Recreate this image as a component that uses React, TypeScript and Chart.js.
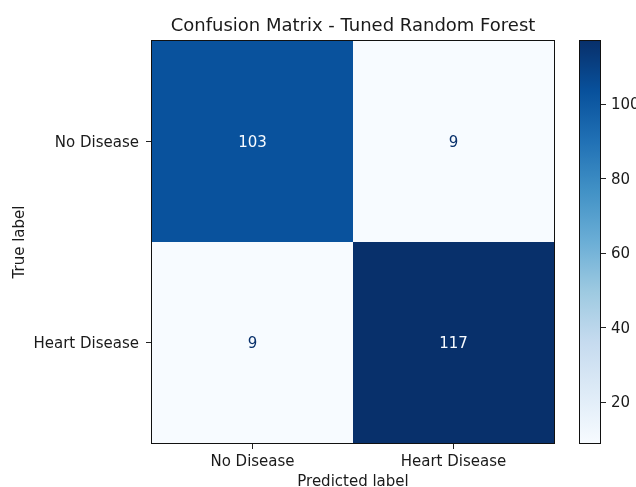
import React, { useEffect, useRef } from "react";
import { Chart, registerables } from "chart.js";

Chart.register(...registerables);

const categories = ["No Disease", "Heart Disease"];
const rowNoDisease = [103, 9];
const rowHeartDisease = [9, 117];
const colorbarTicks = [20, 40, 60, 80, 100];
const chartTitle = "Confusion Matrix - Tuned Random Forest";
const xTitle = "Predicted label";
const yTitle = "True label";

const blues = ["#f7fbff", "#deebf7", "#c6dbef", "#9ecae1", "#6baed6", "#4292c6", "#2171b5", "#08519c", "#08306b"];

const matrix = [rowNoDisease, rowHeartDisease];
const allVals = matrix.flat();
const vmin = Math.min(...allVals);
const vmax = Math.max(...allVals);

function hexToRgb(h: string) {
  const n = parseInt(h.slice(1), 16);
  return [(n >> 16) & 255, (n >> 8) & 255, n & 255];
}
function bluesColor(t: number) {
  const c = Math.max(0, Math.min(1, t)) * (blues.length - 1);
  const i = Math.min(Math.floor(c), blues.length - 2);
  const f = c - i;
  const a = hexToRgb(blues[i]);
  const b = hexToRgb(blues[i + 1]);
  const r = a.map((v, k) => Math.round(v + (b[k] - v) * f));
  return `rgb(${r[0]},${r[1]},${r[2]})`;
}

const FONT = "'DejaVu Sans', sans-serif";
const TEXT = "#1a1a1a";

export default function App() {
  const mainRef = useRef<HTMLCanvasElement>(null);
  const cbRef = useRef<HTMLCanvasElement>(null);

  useEffect(() => {
    const cellPlugin = {
      id: "cells",
      beforeDatasetsDraw(chart: any) {
        const { ctx, scales } = chart;
        const xs = scales.x, ys = scales.y;
        ctx.save();
        matrix.forEach((row, i) => {
          row.forEach((v, j) => {
            const x0 = xs.getPixelForValue(j - 0.5);
            const x1 = xs.getPixelForValue(j + 0.5);
            const y0 = ys.getPixelForValue(i - 0.5);
            const y1 = ys.getPixelForValue(i + 0.5);
            ctx.fillStyle = bluesColor((v - vmin) / (vmax - vmin));
            ctx.fillRect(Math.min(x0, x1), Math.min(y0, y1), Math.abs(x1 - x0), Math.abs(y1 - y0));
          });
        });
        const thresh = (vmin + vmax) / 2;
        ctx.font = `15px ${FONT}`;
        ctx.textAlign = "center";
        ctx.textBaseline = "middle";
        matrix.forEach((row, i) => {
          row.forEach((v, j) => {
            ctx.fillStyle = v > thresh ? blues[0] : blues[blues.length - 1];
            ctx.fillText(String(v), xs.getPixelForValue(j), ys.getPixelForValue(i) + 1.5);
          });
        });
        ctx.restore();
      },
      afterDraw(chart: any) {
        const { ctx, chartArea } = chart;
        ctx.save();
        ctx.strokeStyle = "#111";
        ctx.lineWidth = 1;
        ctx.strokeRect(Math.round(chartArea.left) - 0.5, Math.round(chartArea.top) - 0.5,
          Math.round(chartArea.right - chartArea.left) + 1, Math.round(chartArea.bottom - chartArea.top) + 1);
        ctx.fillStyle = TEXT;
        ctx.font = `18px ${FONT}`;
        ctx.textAlign = "center";
        ctx.textBaseline = "alphabetic";
        ctx.fillText(chartTitle, (chartArea.left + chartArea.right) / 2, 31);
        ctx.restore();
      },
    };

    const tickFont = { family: FONT, size: 15 };
    const main = new Chart(mainRef.current!, {
      type: "scatter",
      data: { datasets: [{ data: [], pointRadius: 0 }] },
      plugins: [cellPlugin],
      options: {
        animation: false,
        responsive: false,
        devicePixelRatio: 1,
        layout: { padding: { top: 41, right: 82, left: 0, bottom: 0 } },
        plugins: { legend: { display: false }, tooltip: { enabled: false }, title: { display: false } },
        scales: {
          x: {
            type: "linear",
            position: "bottom",
            min: -0.5,
            max: 1.5,
            afterBuildTicks: (s: any) => { s.ticks = categories.map((_, i) => ({ value: i })); },
            afterFit: (s: any) => { s.height = 44; },
            ticks: { font: tickFont, color: TEXT, padding: 4, maxRotation: 0, autoSkip: false,
              callback: (v: any) => categories[v as number] ?? "" },
            grid: { display: true, drawOnChartArea: false, drawTicks: true, tickLength: 6, color: "#222" },
            border: { display: false },
            title: { display: true, text: xTitle, font: tickFont, color: TEXT, padding: { top: 0, bottom: -4 } },
          },
          y: {
            type: "linear",
            position: "left",
            min: -0.5,
            max: 1.5,
            reverse: true,
            afterBuildTicks: (s: any) => { s.ticks = categories.map((_, i) => ({ value: i })); },
            afterFit: (s: any) => { s.width = 152; },
            ticks: { font: tickFont, color: TEXT, padding: 7, autoSkip: false, labelOffset: 2,
              callback: (v: any) => categories[v as number] ?? "" },
            grid: { display: true, drawOnChartArea: false, drawTicks: true, tickLength: 6, color: "#222" },
            border: { display: false },
            title: { display: true, text: yTitle, font: tickFont, color: TEXT, padding: { top: 11, bottom: 0 } },
          },
        },
      },
    } as any);

    const cbPlugin = {
      id: "cbar",
      beforeDatasetsDraw(chart: any) {
        const { ctx, chartArea, scales } = chart;
        const ys = scales.y;
        const yBottom = ys.getPixelForValue(vmin);
        const yTop = ys.getPixelForValue(vmax);
        const g = ctx.createLinearGradient(0, yBottom, 0, yTop);
        blues.forEach((c, i) => g.addColorStop(i / (blues.length - 1), c));
        ctx.save();
        ctx.fillStyle = g;
        ctx.fillRect(chartArea.left, yTop, chartArea.right - chartArea.left, yBottom - yTop);
        ctx.strokeStyle = "#111";
        ctx.lineWidth = 1;
        ctx.strokeRect(Math.round(chartArea.left) - 0.5, Math.round(yTop) - 0.5,
          Math.round(chartArea.right - chartArea.left) + 1, Math.round(yBottom - yTop) + 1);
        ctx.restore();
      },
    };

    const cb = new Chart(cbRef.current!, {
      type: "scatter",
      data: { datasets: [{ data: [], pointRadius: 0 }] },
      plugins: [cbPlugin],
      options: {
        animation: false,
        responsive: false,
        devicePixelRatio: 1,
        layout: { padding: { top: 41, right: 0, left: 580, bottom: 44 } },
        plugins: { legend: { display: false }, tooltip: { enabled: false } },
        scales: {
          x: { display: false, min: 0, max: 1 },
          y: {
            type: "linear",
            position: "right",
            min: vmin,
            max: vmax,
            afterBuildTicks: (s: any) => { s.ticks = colorbarTicks.map((v) => ({ value: v })); },
            afterFit: (s: any) => { s.width = 36; },
            ticks: { font: tickFont, color: TEXT, padding: 5, labelOffset: 1 },
            grid: { display: true, drawOnChartArea: false, drawTicks: true, tickLength: 6, color: "#222" },
            border: { display: false },
          },
        },
      },
    } as any);

    return () => { main.destroy(); cb.destroy(); };
  }, []);

  return (
    <div style={{ position: "fixed", left: 0, top: 0, width: 636, height: 487, background: "#fff", overflow: "hidden" }}>
      <canvas ref={mainRef} width={636} height={487} style={{ position: "absolute", left: 0, top: 0, width: 636, height: 487 }} />
      <canvas ref={cbRef} width={636} height={487} style={{ position: "absolute", left: 0, top: 0, width: 636, height: 487, pointerEvents: "none" }} />
    </div>
  );
}
